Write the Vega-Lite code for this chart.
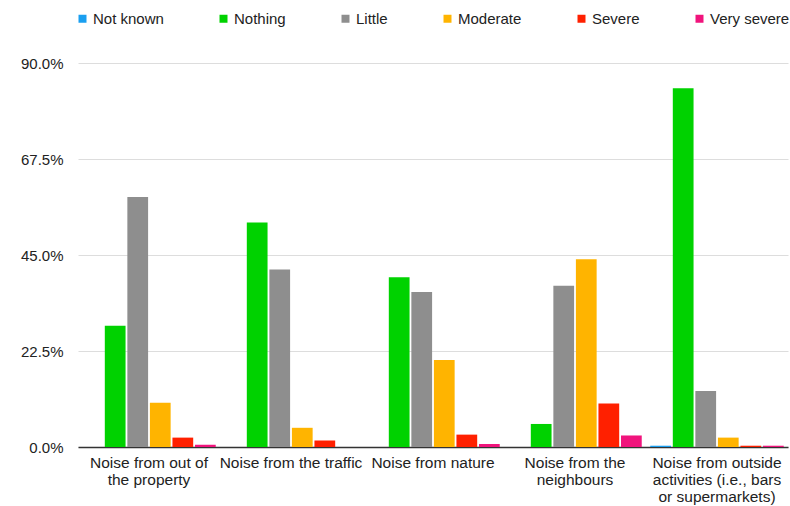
{
  "$schema": "https://vega.github.io/schema/vega-lite/v6.json",
  "autosize": {"type": "none"},
  "width": 710,
  "height": 384,
  "padding": {"left": 78, "top": 63, "right": 2, "bottom": 59},
  "background": "white",
  "config": {
    "font": "Liberation Sans",
    "view": {"stroke": null}
  },
  "data": {
    "values": [
      {"category": "Noise from out of|the property", "level": "Not known", "value": 0},
      {"category": "Noise from out of|the property", "level": "Nothing", "value": 0.284},
      {"category": "Noise from out of|the property", "level": "Little", "value": 0.586},
      {"category": "Noise from out of|the property", "level": "Moderate", "value": 0.104},
      {"category": "Noise from out of|the property", "level": "Severe", "value": 0.022},
      {"category": "Noise from out of|the property", "level": "Very severe", "value": 0.005},
      {"category": "Noise from the traffic", "level": "Not known", "value": 0},
      {"category": "Noise from the traffic", "level": "Nothing", "value": 0.526},
      {"category": "Noise from the traffic", "level": "Little", "value": 0.416},
      {"category": "Noise from the traffic", "level": "Moderate", "value": 0.045},
      {"category": "Noise from the traffic", "level": "Severe", "value": 0.015},
      {"category": "Noise from the traffic", "level": "Very severe", "value": 0},
      {"category": "Noise from nature", "level": "Not known", "value": 0},
      {"category": "Noise from nature", "level": "Nothing", "value": 0.398},
      {"category": "Noise from nature", "level": "Little", "value": 0.363},
      {"category": "Noise from nature", "level": "Moderate", "value": 0.204},
      {"category": "Noise from nature", "level": "Severe", "value": 0.029},
      {"category": "Noise from nature", "level": "Very severe", "value": 0.007},
      {"category": "Noise from the|neighbours", "level": "Not known", "value": 0},
      {"category": "Noise from the|neighbours", "level": "Nothing", "value": 0.054},
      {"category": "Noise from the|neighbours", "level": "Little", "value": 0.378},
      {"category": "Noise from the|neighbours", "level": "Moderate", "value": 0.44},
      {"category": "Noise from the|neighbours", "level": "Severe", "value": 0.102},
      {"category": "Noise from the|neighbours", "level": "Very severe", "value": 0.027},
      {"category": "Noise from outside|activities (i.e., bars|or supermarkets)", "level": "Not known", "value": 0.003},
      {"category": "Noise from outside|activities (i.e., bars|or supermarkets)", "level": "Nothing", "value": 0.841},
      {"category": "Noise from outside|activities (i.e., bars|or supermarkets)", "level": "Little", "value": 0.131},
      {"category": "Noise from outside|activities (i.e., bars|or supermarkets)", "level": "Moderate", "value": 0.022},
      {"category": "Noise from outside|activities (i.e., bars|or supermarkets)", "level": "Severe", "value": 0.003},
      {"category": "Noise from outside|activities (i.e., bars|or supermarkets)", "level": "Very severe", "value": 0.003}
    ]
  },
  "mark": {"type": "bar"},
  "encoding": {
    "x": {
      "field": "category",
      "type": "nominal",
      "sort": null,
      "scale": {"paddingInner": 0.06, "paddingOuter": 0.03},
      "axis": {
        "title": null,
        "labelAngle": 0,
        "labelExpr": "split(datum.value, '|')",
        "labelFontSize": 15.5,
        "labelColor": "#222222",
        "labelLineHeight": 17,
        "labelBaseline": "top",
        "labelPadding": 8,
        "ticks": false,
        "domainColor": "#333333",
        "domainWidth": 1.5,
        "grid": false
      }
    },
    "xOffset": {
      "field": "level",
      "type": "nominal",
      "sort": ["Not known", "Nothing", "Little", "Moderate", "Severe", "Very severe"],
      "scale": {"paddingInner": 0.08, "paddingOuter": 0}
    },
    "y": {
      "field": "value",
      "type": "quantitative",
      "scale": {"domain": [0, 0.9], "nice": false},
      "axis": {
        "title": null,
        "values": [0, 0.225, 0.45, 0.675, 0.9],
        "format": ".1%",
        "labelFontSize": 15,
        "labelColor": "#222222",
        "labelPadding": 15,
        "ticks": false,
        "domain": false,
        "gridColor": "#dddddd",
        "gridWidth": 1.2
      }
    },
    "color": {
      "field": "level",
      "type": "nominal",
      "sort": ["Not known", "Nothing", "Little", "Moderate", "Severe", "Very severe"],
      "scale": {
        "domain": ["Not known", "Nothing", "Little", "Moderate", "Severe", "Very severe"],
        "range": ["#1a9ff0", "#00d200", "#8e8e8e", "#ffb400", "#ff2000", "#f0147c"]
      },
      "legend": {
        "title": null,
        "orient": "none",
        "direction": "horizontal",
        "legendX": -3,
        "legendY": -52,
        "symbolType": "square",
        "symbolSize": 64,
        "symbolStrokeWidth": 0,
        "labelFontSize": 15,
        "labelColor": "#222222",
        "labelOffset": 3,
        "columnPadding": 52
      }
    }
  }
}
